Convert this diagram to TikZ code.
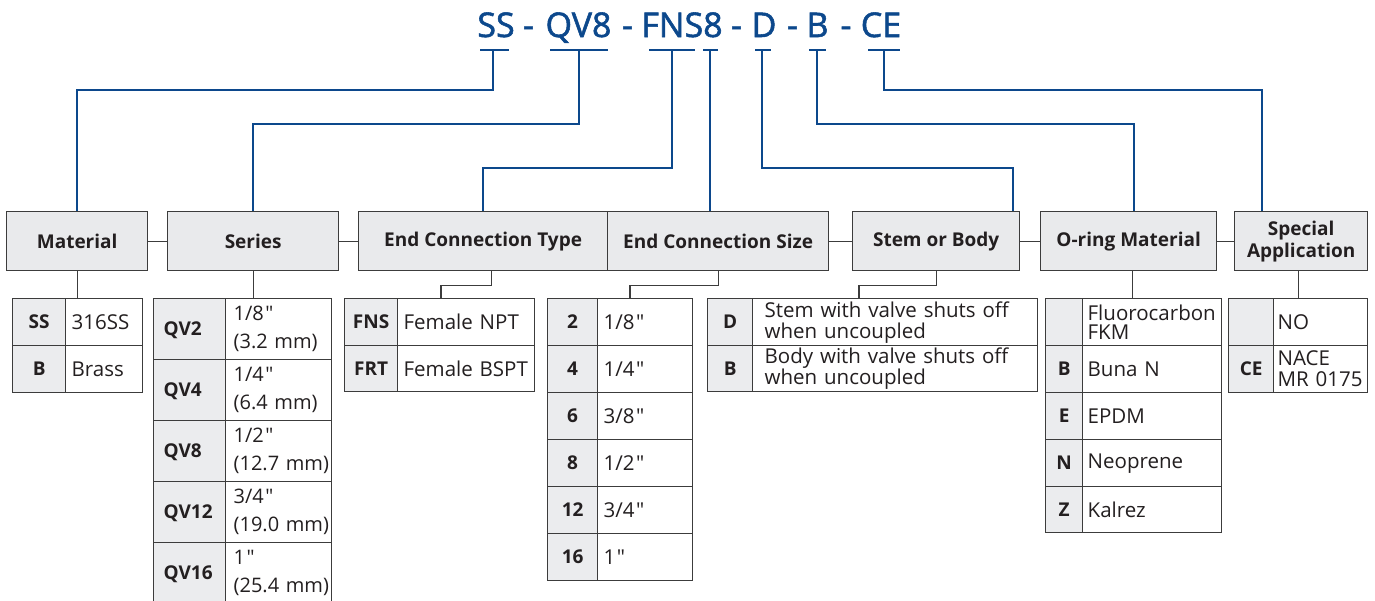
\documentclass[tikz,border=0pt]{standalone}
\usepackage{fontspec}
\setmainfont{Open Sans}[Ligatures=TeXOff]
\newfontfamily\codefont{Open Sans}[Ligatures=TeXOff,FakeBold=1.6]
\definecolor{codeblue}{RGB}{12,72,140}
\definecolor{bord}{RGB}{60,60,60}
\definecolor{hfill}{RGB}{233,234,236}
\definecolor{cfill}{RGB}{235,236,238}
\definecolor{txt}{RGB}{35,31,32}
\newcommand\inch{\kern1.5pt"}
\newcommand\tabrow[9]{%
  \pgfmathsetmacro\mycw{#3-#2}%
  \pgfmathsetmacro\mytw{#4-#3-12}%
  \pgfmathsetmacro\myrh{#6-#5}%
  \node[codecell,minimum width=\mycw pt,minimum height=\myrh pt] (#1c) at (#2,#5) {#8};
  \node[desccell,minimum height=\myrh pt,text width=\mytw pt,#7] (#1d) at (#3,#5) {#9};
}
\begin{document}
\begin{tikzpicture}[x=1pt,y=-1pt,
  blueline/.style={draw=codeblue,line width=2pt},
  grayline/.style={draw=bord,line width=1.3pt},
  hbox/.style={draw=bord,fill=hfill,line width=1.3pt,anchor=north west,minimum height=59pt,inner sep=0pt,align=center,font=\fontsize{19}{22}\selectfont\bfseries,text=txt},
  codeextra/.style={},
  codecell/.style={draw=bord,fill=cfill,line width=1.3pt,anchor=north west,inner sep=0pt,text height=13.5pt,text depth=0pt,font=\fontsize{19}{22}\selectfont\bfseries,text=txt,codeextra},
  desccell/.style={draw=bord,fill=white,line width=1.3pt,anchor=north west,inner xsep=6pt,inner ysep=0pt,align=left,font=\fontsize{20.5}{21}\selectfont,text=txt},
  sercell/.style={inner xsep=8pt,text width=90pt,font=\fontsize{20}{28}\selectfont},
  codetxt/.style={anchor=base,inner sep=0pt,text=codeblue,font=\fontsize{34}{40}\codefont}
]
\useasboundingbox (0,0) rectangle (1375,600);

% ---- code string ----
\node[codetxt] (cSS) at (496,37) {SS};
\node[codetxt] (d1) at (528.5,37) {-};
\node[codetxt] (cQV) at (578.5,37) {QV8};
\node[codetxt] (d2) at (627.5,37) {-};
\node[codetxt] (cFNS) at (682,37) {FNS8};
\node[codetxt] (d3) at (736.5,37) {-};
\node[codetxt] (cD) at (764,37) {D};
\node[codetxt] (d4) at (792.5,37) {-};
\node[codetxt] (cB) at (817.5,37) {B};
\node[codetxt] (d5) at (846,37) {-};
\node[codetxt] (cCE) at (881,37) {CE};

% bars
\coordinate (bSS) at (493,50);
\coordinate (bQV) at (579,50);
\coordinate (bFNS) at (672,50);
\coordinate (b8) at (710,50);
\coordinate (bD) at (762,50);
\coordinate (bB) at (817,50);
\coordinate (bCE) at (884,50);
\draw[blueline] (480,50) -- (509,50);
\draw[blueline] (550,50) -- (608,50);
\draw[blueline] (649,50) -- (695,50);
\draw[blueline] (703,50) -- (718,50);
\draw[blueline] (755,50) -- (771,50);
\draw[blueline] (809,50) -- (826,50);
\draw[blueline] (868,50) -- (900,50);

% ---- header boxes ----
\node[hbox,minimum width=141pt] (material) at (6,211) {Material};
\node[hbox,minimum width=171pt] (series) at (167,211) {Series};
\node[hbox,minimum width=249pt] (ect) at (358,211) {End Connection Type};
\node[hbox,minimum width=221pt] (ecs) at (607,211) {End Connection Size};
\node[hbox,minimum width=167pt] (stem) at (852,211) {Stem or Body};
\node[hbox,minimum width=176pt] (oring) at (1040,211) {O-ring Material};
\node[hbox,minimum width=133pt] (spec) at (1234,211) {Special\\Application};

% ---- tables ----
\tabrow{m1}{12}{65}{142}{298}{345}{}{SS}{316SS}
\tabrow{m2}{12}{65}{142}{345}{392}{}{B}{Brass}

\begin{scope}[codeextra/.style={text width=52pt,align=left,inner xsep=10pt}]
\tabrow{s1}{153}{225}{331}{298}{359}{sercell}{QV2}{1/8\inch\\(3.2~mm)}
\tabrow{s2}{153}{225}{331}{359}{420}{sercell}{QV4}{1/4\inch\\(6.4~mm)}
\tabrow{s3}{153}{225}{331}{420}{481}{sercell}{QV8}{1/2\inch\\(12.7~mm)}
\tabrow{s4}{153}{225}{331}{481}{542}{sercell}{QV12}{3/4\inch\\(19.0~mm)}
\tabrow{s5}{153}{225}{331}{542}{603}{sercell}{QV16}{1\inch\\(25.4~mm)}
\end{scope}

\tabrow{e1}{344}{397}{534}{298}{345}{}{FNS}{Female NPT}
\tabrow{e2}{344}{397}{534}{345}{391}{}{FRT}{Female BSPT}

\tabrow{z1}{547}{597}{692}{298}{345}{}{2}{1/8\inch}
\tabrow{z2}{547}{597}{692}{345}{392}{}{4}{1/4\inch}
\tabrow{z3}{547}{597}{692}{392}{439}{}{6}{3/8\inch}
\tabrow{z4}{547}{597}{692}{439}{486}{}{8}{1/2\inch}
\tabrow{z5}{547}{597}{692}{486}{533}{}{12}{3/4\inch}
\tabrow{z6}{547}{597}{692}{533}{580}{}{16}{1\inch}

\tabrow{t1}{707}{752}{1037}{298}{345}{inner xsep=12pt,text width=261pt}{D}{Stem with valve shuts off\\when uncoupled}
\tabrow{t2}{707}{752}{1037}{345}{391}{inner xsep=12pt,text width=261pt}{B}{Body with valve shuts off\\when uncoupled}

\tabrow{o1}{1045}{1082}{1221}{298}{345}{inner xsep=5pt,text width=129pt,font=\fontsize{20.5}{19}\selectfont}{}{Fluorocarbon\\FKM}
\tabrow{o2}{1045}{1082}{1221}{345}{392}{inner xsep=5pt,text width=129pt}{B}{Buna N}
\tabrow{o3}{1045}{1082}{1221}{392}{439}{inner xsep=5pt,text width=129pt}{E}{EPDM}
\tabrow{o4}{1045}{1082}{1221}{439}{486}{inner xsep=5pt,text width=129pt}{N}{Neoprene}
\tabrow{o5}{1045}{1082}{1221}{486}{532}{inner xsep=5pt,text width=129pt}{Z}{Kalrez}

\tabrow{p1}{1228}{1273}{1367}{298}{345}{inner xsep=4pt,text width=86pt}{}{NO}
\tabrow{p2}{1228}{1273}{1367}{345}{392}{inner xsep=4pt,text width=86pt}{CE}{NACE\\MR~0175}

% ---- blue connectors ----
\draw[blueline] (bSS) -- ++(0,40) -| (material.north);
\draw[blueline] (bQV) -- ++(0,74) -| (series.north);
\draw[blueline] (bFNS) -- ++(0,118) -| (ect.north);
\draw[blueline] (b8) -- (b8 |- ecs.north);
\draw[blueline] (bD) -- ++(0,118) -| ([xshift=-7pt]stem.north east);
\draw[blueline] (bB) -- ++(0,74) -| ([xshift=5pt]oring.north);
\draw[blueline] (bCE) -- ++(0,40) -| ([xshift=28pt]spec.north west);

% ---- gray connectors ----
\draw[grayline] (material.east) -- (series.west);
\draw[grayline] (series.east) -- (ect.west);
\draw[grayline] (ecs.east) -- (stem.west);
\draw[grayline] (stem.east) -- (oring.west);
\draw[grayline] (oring.east) -- (spec.west);

\draw[grayline] (material.south) -- (material.south |- m1c.north);
\draw[grayline] (series.south) -- (series.south |- s1c.north);
\draw[grayline] ([xshift=8.5pt]ect.south) -- ++(0,14) -| ([xshift=44pt]e1d.north west);
\draw[grayline] (ecs.south) -- ++(0,14) -| ([xshift=33pt]z1d.north west);
\draw[grayline] (stem.south) -- ++(0,14) -| ([xshift=107pt]t1d.north west);
\draw[grayline] ([xshift=4pt]oring.south) -- ([xshift=4pt]oring.south |- o1c.north);
\draw[grayline] ([xshift=-3pt]spec.south) -- ([xshift=-3pt]spec.south |- p1c.north);
\end{tikzpicture}
\end{document}
